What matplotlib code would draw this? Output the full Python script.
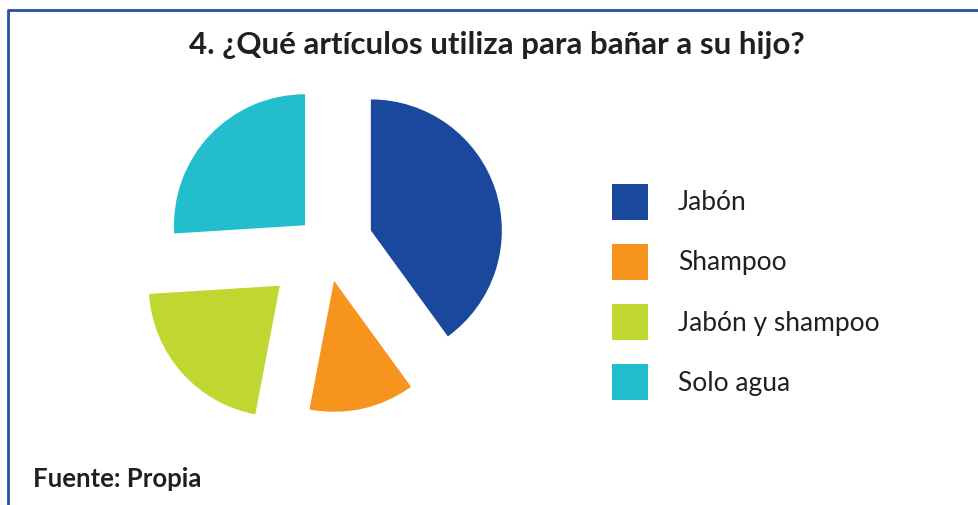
import matplotlib
matplotlib.use("Agg")
import matplotlib.pyplot as plt
from matplotlib.lines import Line2D

plt.rcParams['font.family'] = ['Lato', 'DejaVu Sans']

labels = ['Jabón', 'Shampoo', 'Jabón y shampoo', 'Solo agua']
values = [40, 13, 21, 26]
colors = ['#1A489C', '#F7941E', '#BFD730', '#22BECE']
explode = [0.36, 0.28, 0.47, 0.22]

W, H = 979, 505
fig = plt.figure(figsize=(W / 100, H / 100), dpi=100)

# pie axes: square box of 400 px, centred on the pie centre
cx, cy, box, rad = 326, 245, 400, 131
ax = fig.add_axes([(cx - box / 2) / W, (H - cy - box / 2) / H, box / W, box / H])
wedges, _ = ax.pie(values, colors=colors, explode=explode, startangle=90,
                   counterclock=False, wedgeprops=dict(linewidth=0))
lim = box / 2 / rad
ax.set_xlim(-lim, lim)
ax.set_ylim(-lim, lim)
ax.axis('off')

fig.legend(wedges, labels, loc='center left', bbox_to_anchor=(612 / W, 1 - 292 / H),
           frameon=False, fontsize=19, handlelength=1.364, handleheight=1.722,
           labelspacing=0.92, handletextpad=1.14, borderpad=0, borderaxespad=0,
           labelcolor='#231F20')

fig.text(497 / W, 1 - 45 / H, '4. ¿Qué artículos utiliza para bañar a su hijo?',
         ha='center', va='center', fontsize=22.5, fontweight='bold', color='#231F20')
fig.text(33 / W, 1 - 479 / H, 'Fuente: Propia', ha='left', va='center',
         fontsize=18.5, fontweight='bold', color='#231F20')

# blue frame (top and left)
fig.add_artist(Line2D([8 / W, 8 / W, 1], [0, 1 - 10 / H, 1 - 10 / H],
                      transform=fig.transFigure, color='#2B4EA2', linewidth=2))

fig.savefig('out.png', dpi=100)
